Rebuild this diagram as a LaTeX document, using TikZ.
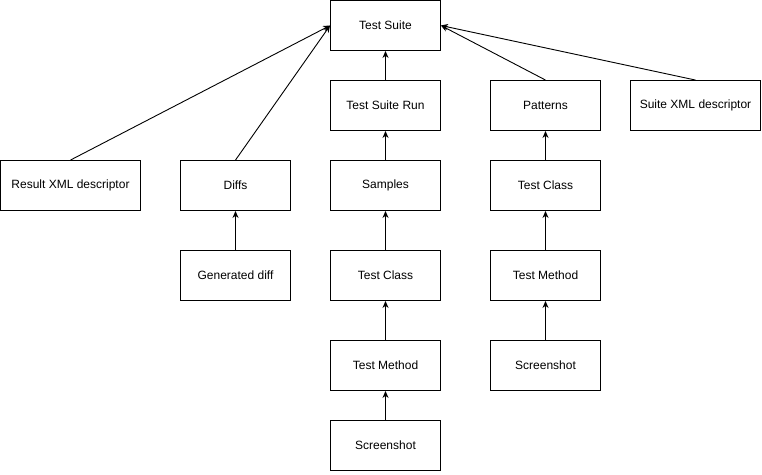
\documentclass[tikz,border=0pt]{standalone}
\usepackage{fontspec}
\setmainfont{Liberation Sans}
\usetikzlibrary{arrows.meta}
\begin{document}
\begin{tikzpicture}[>={Stealth[length=7pt,width=6pt]}, x=1pt, y=-1pt, line width=.9pt,
 box/.style={draw, minimum width=110pt, minimum height=50pt, inner sep=0pt, font=\fontsize{12}{14}\selectfont}]
 \useasboundingbox (0,0) rectangle (762,474);
 \node[box] (ts) at (385.5,25.5) {Test Suite};
 \node[box] (tsr) at (385.5,105.5) {Test Suite Run};
 \node[box] (pat) at (545.5,105.5) {Patterns};
 \node[box, minimum width=130pt] (sxml) at (695.5,105.5) {Suite XML descriptor};
 \node[box, minimum width=140pt] (rxml) at (70.5,185.5) {Result XML descriptor};
 \node[box] (diffs) at (235.5,185.5) {Diffs};
 \node[box] (smp) at (385.5,185.5) {Samples};
 \node[box] (tcr) at (545.5,185.5) {Test Class};
 \node[box] (gd) at (235.5,275.5) {Generated diff};
 \node[box] (tcm) at (385.5,275.5) {Test Class};
 \node[box] (tmr) at (545.5,275.5) {Test Method};
 \node[box] (tmm) at (385.5,365.5) {Test Method};
 \node[box] (ssr) at (545.5,365.5) {Screenshot};
 \node[box] (ssm) at (385.5,445.5) {Screenshot};
 \draw[->] (rxml.north) -- (ts.west);
 \draw[->] (diffs.north) -- (ts.west);
 \draw[->] (pat.north) -- (ts.east);
 \draw[->] (sxml.north) -- (ts.east);
 \draw[->] (gd) -- (diffs);
 \draw[->] (tsr) -- (ts);
 \draw[->] (smp) -- (tsr);
 \draw[->] (tcm) -- (smp);
 \draw[->] (tmm) -- (tcm);
 \draw[->] (ssm) -- (tmm);
 \draw[->] (tcr) -- (pat);
 \draw[->] (tmr) -- (tcr);
 \draw[->] (ssr) -- (tmr);
\end{tikzpicture}
\end{document}
